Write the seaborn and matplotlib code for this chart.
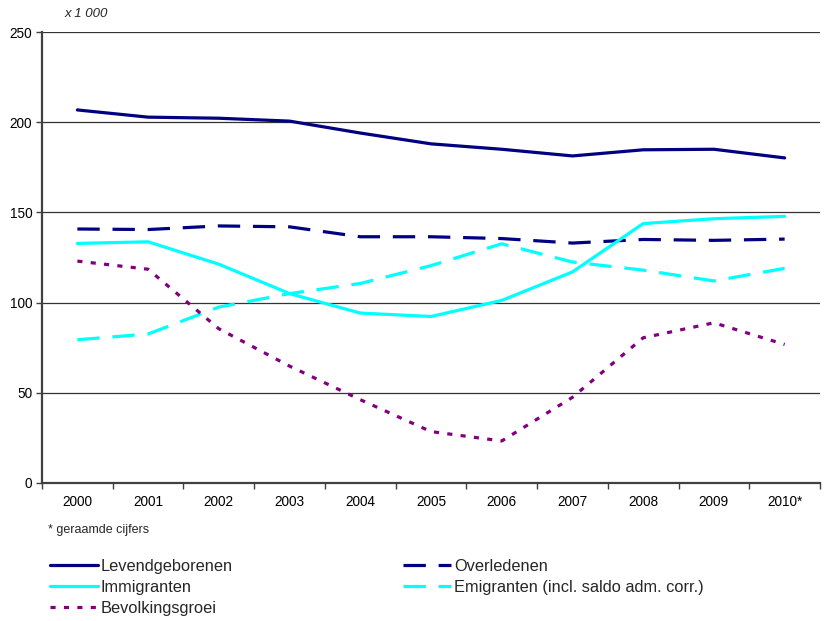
import numpy as np
import pandas as pd
import matplotlib.pyplot as plt
import seaborn as sns
from matplotlib.lines import Line2D
from matplotlib.ticker import FixedLocator

# Data (x 1 000)
years = ["2000", "2001", "2002", "2003", "2004", "2005", "2006", "2007", "2008", "2009", "2010*"]
levendgeborenen = [206.8, 202.8, 202.2, 200.6, 194.0, 188.0, 185.0, 181.3, 184.7, 185.0, 180.2]
overledenen = [140.8, 140.5, 142.5, 142.0, 136.5, 136.5, 135.5, 133.0, 135.0, 134.5, 135.2]
immigranten = [132.8, 133.7, 121.3, 105.0, 94.2, 92.3, 101.2, 117.0, 143.8, 146.5, 147.8]
emigranten = [79.4, 82.6, 97.5, 105.0, 110.6, 120.5, 132.6, 122.5, 118.0, 112.0, 119.0]
bevolkingsgroei = [123.0, 118.5, 85.5, 64.8, 46.2, 28.5, 23.3, 47.5, 80.5, 88.8, 76.8]

series_names = [
    "Levendgeborenen",
    "Overledenen",
    "Immigranten",
    "Emigranten (incl. saldo adm. corr.)",
    "Bevolkingsgroei",
]
series_values = [levendgeborenen, overledenen, immigranten, emigranten, bevolkingsgroei]

colors = {
    "Levendgeborenen": "#000080",
    "Overledenen": "#000080",
    "Immigranten": "#00FFFF",
    "Emigranten (incl. saldo adm. corr.)": "#00FFFF",
    "Bevolkingsgroei": "#800080",
}
dashes = {
    "Levendgeborenen": "",
    "Overledenen": (7.0, 4.0),
    "Immigranten": "",
    "Emigranten (incl. saldo adm. corr.)": (7.0, 4.0),
    "Bevolkingsgroei": (1.6, 2.6),
}

rows = []
for name, vals in zip(series_names, series_values):
    for i, v in enumerate(vals):
        rows.append({"pos": i, "value": v, "serie": name})
df = pd.DataFrame(rows)

sns.set_style("white")
plt.rcParams["font.family"] = ["Liberation Sans", "DejaVu Sans"]

fig = plt.figure(figsize=(8.37, 6.21), dpi=100)
ax = fig.add_axes([42 / 837, 1 - 483 / 621, (820 - 42) / 837, (483 - 32) / 621])

lw = 2.3
sns.lineplot(
    data=df,
    x="pos",
    y="value",
    hue="serie",
    style="serie",
    hue_order=series_names,
    style_order=series_names,
    palette=colors,
    dashes=dashes,
    linewidth=lw,
    legend=False,
    sort=False,
    ax=ax,
)

# Axes styling
ax.set_xlim(-0.5, len(years) - 0.5)
ax.set_ylim(0, 250)
ax.set_yticks(np.arange(0, 251, 50))
ax.set_xticks(range(len(years)))
ax.set_xticklabels(years)
ax.xaxis.set_minor_locator(FixedLocator(np.arange(-0.5, len(years), 1)))
ax.set_xlabel("")
ax.set_ylabel("")

ax.yaxis.grid(True, color="#333333", linewidth=0.9)
ax.set_axisbelow(True)
for side in ["top", "right"]:
    ax.spines[side].set_visible(False)
for side in ["left", "bottom"]:
    ax.spines[side].set_color("#404040")
    ax.spines[side].set_linewidth(1.6)

ax.tick_params(axis="y", which="major", length=4, width=1, color="#404040",
               direction="out", left=True, pad=3, labelsize=9.8, labelcolor="black")
ax.tick_params(axis="x", which="major", length=0, pad=9, labelsize=9.8, labelcolor="black")
ax.tick_params(axis="x", which="minor", length=4, width=1, color="#404040",
               direction="out", bottom=True)

fig.text(65 / 837, 1 - 14 / 621, "x 1 000", fontsize=9.5, style="italic", va="center")
fig.text(48 / 837, 1 - 530 / 621, "* geraamde cijfers", fontsize=9, va="center")

# Legend
order = [0, 2, 4, 1, 3]
handles = []
labels = []
for i in order:
    name = series_names[i]
    d = dashes[name]
    h = Line2D([], [], color=colors[name], linewidth=lw)
    if d != "":
        h.set_dashes(d)
    handles.append(h)
    labels.append(name)

fig.legend(
    handles,
    labels,
    loc="upper left",
    bbox_to_anchor=(50 / 837, 1 - 559 / 621),
    ncol=2,
    frameon=False,
    fontsize=11.8,
    handlelength=2.9,
    handletextpad=0.2,
    labelspacing=0.37,
    columnspacing=10.4,
    borderpad=0,
    borderaxespad=0,
)

fig.savefig("out.png", dpi=100)
